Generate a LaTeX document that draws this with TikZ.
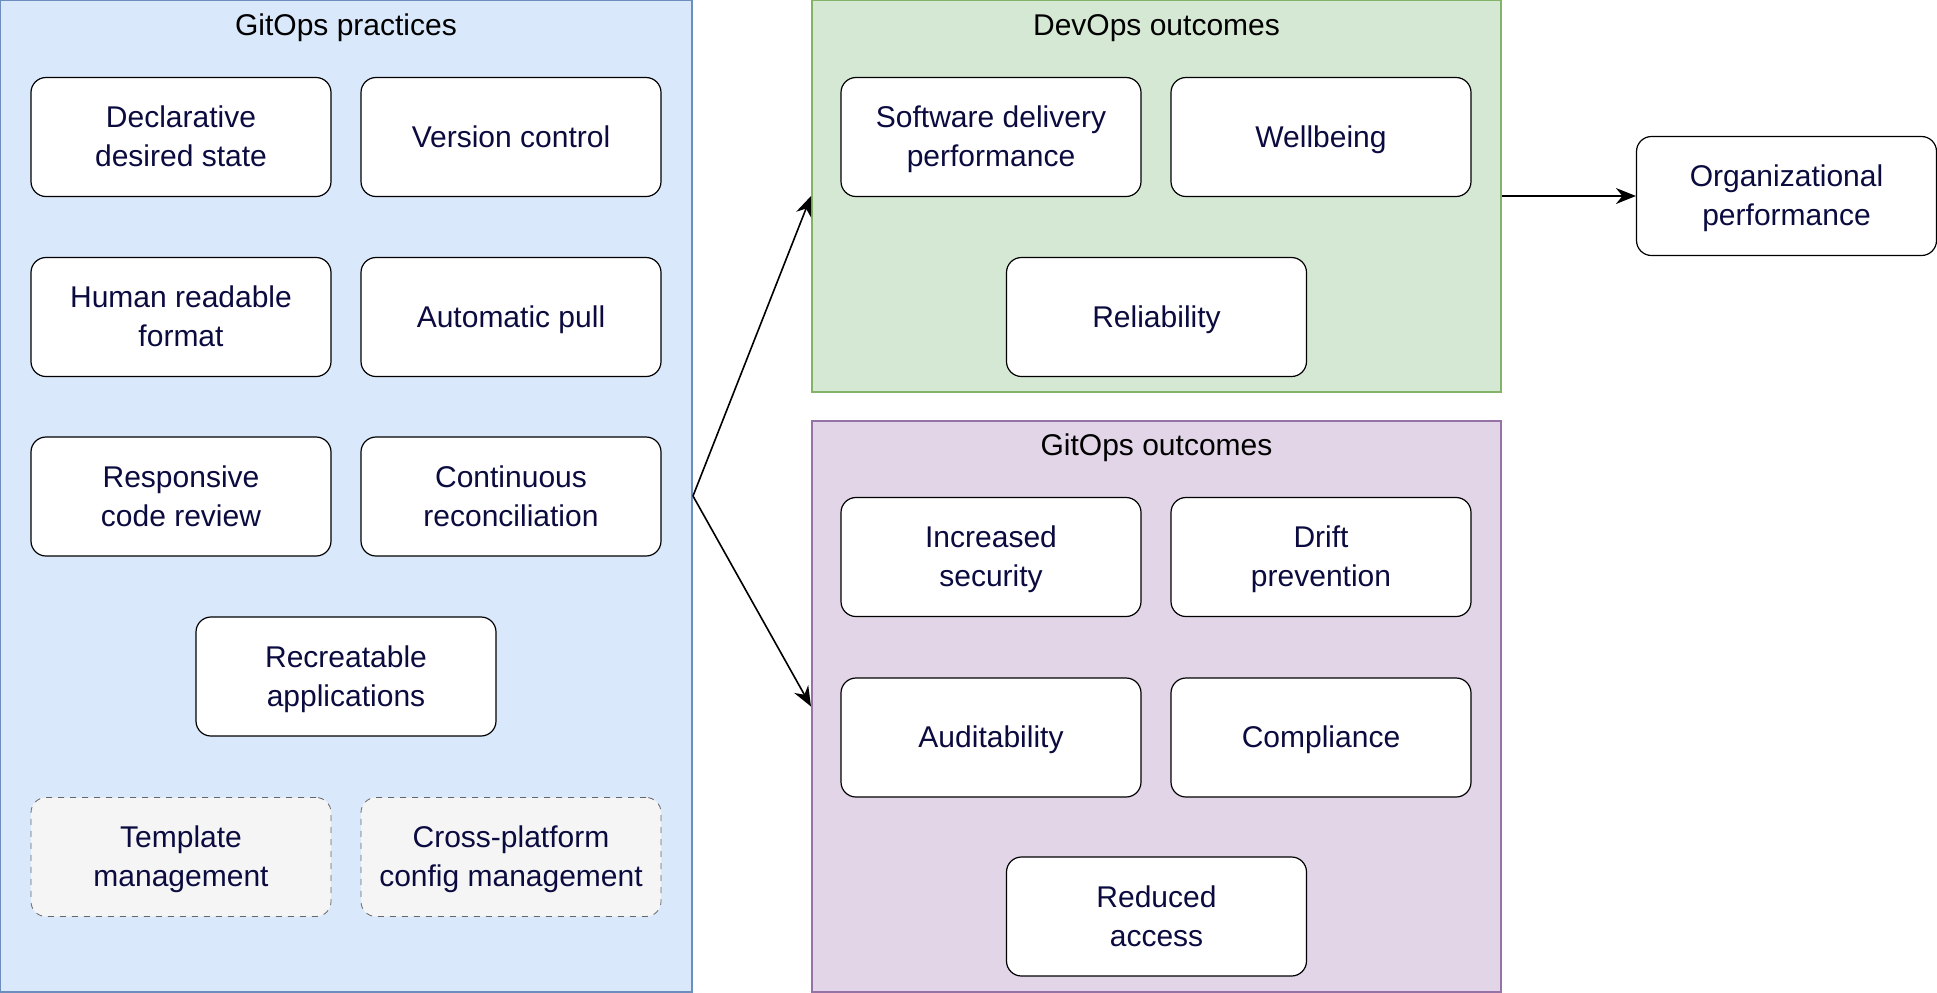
\documentclass[tikz,border=0pt]{standalone}
\usepackage{fontspec}
\setmainfont{Liberation Sans}
\usepackage{xcolor}
\usetikzlibrary{arrows.meta}

\definecolor{practfill}{HTML}{DAE8FC}
\definecolor{practline}{HTML}{6C8EBF}
\definecolor{devfill}{HTML}{D5E8D4}
\definecolor{devline}{HTML}{82B366}
\definecolor{gitfill}{HTML}{E1D5E7}
\definecolor{gitline}{HTML}{9673A6}
\definecolor{boxtext}{HTML}{0B0B3F}
\definecolor{optfill}{HTML}{F5F5F5}

\begin{document}
\begin{tikzpicture}[x=0.5pt,y=-0.5pt,
    group/.style={draw, line width=1pt, inner sep=0pt},
    title/.style={font=\fontsize{15}{19}\selectfont, text=black},
    box/.style={draw=black, line width=0.6pt, fill=white, rounded corners=7.5pt,
      minimum width=150pt, minimum height=59.5pt, inner sep=0pt, align=center,
      text=boxtext, font=\fontsize{15}{19.5}\selectfont, text depth=0.5pt},
    optbox/.style={box, fill=optfill, draw=black!60, dashed, line width=0.4pt},
    arrow/.style={-{Stealth[length=10pt,width=8pt]}, line width=0.8pt}]
    \useasboundingbox (0,0) rectangle (1937,992);

    % containers
    \node[group, draw=practline, fill=practfill, minimum width=346pt, minimum height=496pt] (practices) at (346,496) {};
    \node[group, draw=devline, fill=devfill, minimum width=344.5pt, minimum height=196pt] (devops) at (1156.5,196) {};
    \node[group, draw=gitline, fill=gitfill, minimum width=344.5pt, minimum height=285.5pt] (gitout) at (1156.5,706.5) {};

    \node[title] (practtitle) at (346,28) {GitOps practices};
    \node[title] (devtitle) at (1156.5,28) {DevOps outcomes};
    \node[title] (gittitle) at (1156.5,448) {GitOps outcomes};

    % GitOps practices
    \node[box] (declarative) at (181,137) {Declarative\\desired state};
    \node[box] (version) at (511,137) {Version control};
    \node[box] (readable) at (181,317) {Human readable\\format};
    \node[box] (pull) at (511,317) {Automatic pull};
    \node[box] (review) at (181,496.5) {Responsive\\code review};
    \node[box] (reconcile) at (511,496.5) {Continuous\\reconciliation};
    \node[box] (recreate) at (346,676.5) {Recreatable\\applications};
    \node[optbox] (template) at (181,857) {Template\\management};
    \node[optbox] (crossplat) at (511,857) {Cross-platform\\config management};

    % DevOps outcomes
    \node[box] (delivery) at (991,137) {Software delivery\\performance};
    \node[box] (wellbeing) at (1321,137) {Wellbeing};
    \node[box] (reliability) at (1156.5,317) {Reliability};

    % GitOps outcomes
    \node[box] (security) at (991,557) {Increased\\security};
    \node[box] (drift) at (1321,557) {Drift\\prevention};
    \node[box] (audit) at (991,737.5) {Auditability};
    \node[box] (compliance) at (1321,737.5) {Compliance};
    \node[box] (access) at (1156.5,916.5) {Reduced\\access};

    \node[box] (orgperf) at (1786.5,196) {Organizational\\performance};

    \draw[arrow] (practices.east) -- (devops.west);
    \draw[arrow] (practices.east) -- (gitout.west);
    \draw[arrow] (devops.east) -- (orgperf.west);
\end{tikzpicture}
\end{document}
